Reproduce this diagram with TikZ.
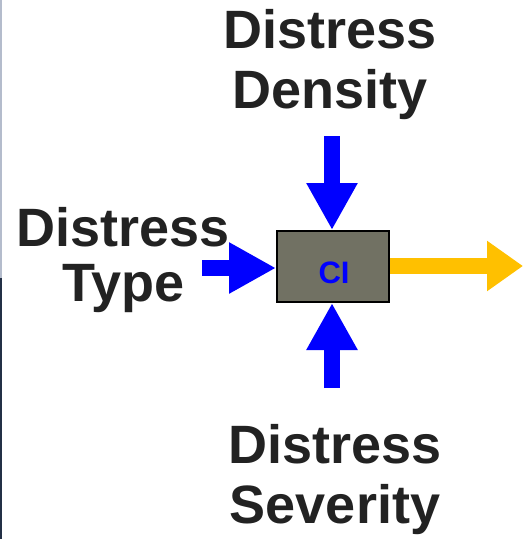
\documentclass[tikz,border=0pt]{standalone}
\usepackage{fontspec}
\setmainfont{Liberation Sans}
\usetikzlibrary{arrows.meta}
\definecolor{txt}{RGB}{34,34,34}
\definecolor{boxfill}{RGB}{113,113,99}
\definecolor{inblue}{RGB}{0,0,255}
\definecolor{outorange}{RGB}{255,192,0}
\definecolor{stripTop}{RGB}{180,188,204}
\definecolor{stripBot}{RGB}{35,48,70}
\begin{document}
\begin{tikzpicture}[x=1pt,y=-1pt,
  lbl/.style={font=\fontsize{54}{60}\selectfont\bfseries, text=txt, anchor=base, inner sep=0pt},
  cibox/.style={draw=black, line width=2pt, fill=boxfill, minimum width=112pt, minimum height=71pt, inner sep=0pt},
  inarrow/.style={draw=inblue, line width=16pt, -{Triangle[length=47pt,width=48pt]}},
  outarrow/.style={draw=outorange, line width=16pt, -{Triangle[length=36pt,width=48pt]}}]
\useasboundingbox (0,0) rectangle (523,539);
% left photo remnant strip
\fill[stripTop] (0,0) rectangle (2,278);
\fill[stripBot] (0,278) rectangle (2,539);
% central box
\node[cibox] (ci) at (333,266.5) {};
\node[font=\fontsize{31}{31}\selectfont\bfseries, text=inblue, anchor=base, inner sep=0pt] (citext) at (334,283) {CI};
% labels
\node[lbl] (t1) at (330,48) {Distress};
\node[lbl] (t2) at (330,108) {Density};
\node[lbl] (l1) at (123.5,246) {Distress};
\node[lbl] (l2) at (123.5,301) {Type};
\node[lbl] (b1) at (335,463) {Distress};
\node[lbl] (b2) at (335,523) {Severity};
% arrow ends
\coordinate (topS) at (332,136);
\coordinate (botS) at (332,388);
\coordinate (leftS) at (202,268);
\coordinate (rightE) at (523,266);
\draw[inarrow] (topS) -- (topS |- ci.north);
\draw[inarrow] (botS) -- (botS |- ci.south);
\draw[inarrow] (leftS) -- (leftS -| ci.west);
\draw[outarrow] (ci.east |- rightE) -- (rightE);
\end{tikzpicture}
\end{document}
